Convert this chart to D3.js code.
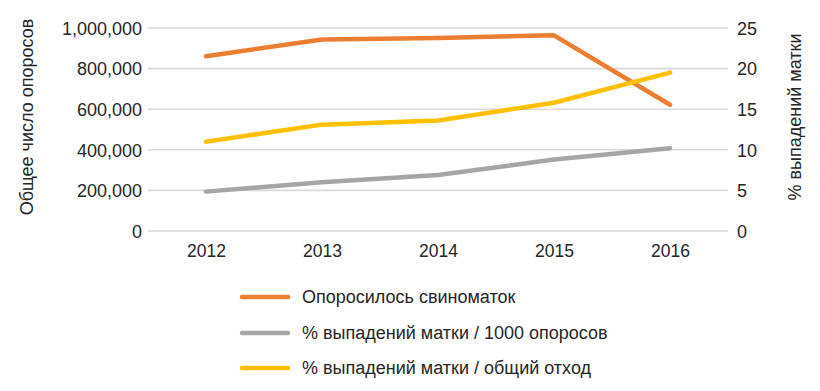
<!DOCTYPE html>
<html>
<head>
<meta charset="utf-8">
<script src="https://cdn.jsdelivr.net/npm/d3@7"></script>
<style>
  body { margin: 0; background: #fff; }
  text { font-family: "Liberation Sans", Arial, sans-serif; fill: #262626; }
</style>
</head>
<body>
<div id="chart"></div>
<script>
// years on the x axis
const years = ['2012', '2013', '2014', '2015', '2016'];

// left axis: total farrowings
const farrowings = [861000, 943000, 951000, 964000, 622000];
// right axis: % uterine prolapse
const prolapsePer1000 = [4.85, 6.0, 6.9, 8.8, 10.2];
const prolapseOfLosses = [11.0, 13.1, 13.6, 15.8, 19.5];

const leftTicks = [0, 200000, 400000, 600000, 800000, 1000000];
const rightTicks = [0, 5, 10, 15, 20, 25];

const seriesNames = [
  'Опоросилось свиноматок',
  '% выпадений матки / 1000 опоросов',
  '% выпадений матки / общий отход'
];
const seriesColors = ['#ED7D31', '#A5A5A5', '#FFC000'];

const W = 820, H = 391;
const svg = d3.select('#chart').append('svg')
  .attr('width', W).attr('height', H);

const plotL = 148, plotR = 728, plotT = 28, plotB = 231;

const x = d3.scalePoint().domain(years).range([plotL, plotR]).padding(0.5);
const yL = d3.scaleLinear().domain([0, 1000000]).range([plotB, plotT]);
const yR = d3.scaleLinear().domain([0, 25]).range([plotB, plotT]);

// gridlines
svg.append('g').selectAll('line')
  .data(leftTicks).enter().append('line')
  .attr('x1', plotL).attr('x2', plotR)
  .attr('y1', d => yL(d)).attr('y2', d => yL(d))
  .attr('stroke', '#d9d9d9').attr('stroke-width', 1.6);

// left axis
const axL = svg.append('g').attr('transform', `translate(${plotL - 6},0)`)
  .call(d3.axisLeft(yL).tickValues(leftTicks).tickFormat(d3.format(',')).tickSize(0).tickPadding(0));
axL.select('.domain').remove();
axL.selectAll('text').style('font-size', '18px').attr('dy', '0.35em');

// right axis
const axR = svg.append('g').attr('transform', `translate(${plotR + 9},0)`)
  .call(d3.axisRight(yR).tickValues(rightTicks).tickSize(0).tickPadding(0));
axR.select('.domain').remove();
axR.selectAll('text').style('font-size', '18px').attr('dy', '0.35em');

// x axis labels
const axX = svg.append('g').attr('transform', `translate(0,${plotB + 8})`)
  .call(d3.axisBottom(x).tickSize(0).tickPadding(0));
axX.select('.domain').remove();
axX.selectAll('text').style('font-size', '17.5px').attr('dy', '1.05em');

// axis titles
svg.append('text')
  .attr('transform', `translate(33,117) rotate(-90)`)
  .attr('text-anchor', 'middle')
  .style('font-size', '18px')
  .text('Общее число опоросов');
svg.append('text')
  .attr('transform', `translate(801,117) rotate(-90)`)
  .attr('text-anchor', 'middle')
  .style('font-size', '18px')
  .text('% выпадений матки');

// lines
const series = [
  { values: farrowings, y: yL },
  { values: prolapsePer1000, y: yR },
  { values: prolapseOfLosses, y: yR }
];

series.forEach((s, i) => {
  const line = d3.line()
    .x((d, j) => x(years[j]))
    .y(d => s.y(d));
  svg.append('path')
    .datum(s.values)
    .attr('d', line)
    .attr('fill', 'none')
    .attr('stroke', seriesColors[i])
    .attr('stroke-width', 4.5)
    .attr('stroke-linecap', 'round')
    .attr('stroke-linejoin', 'round');
});

// legend
const legendY = [297, 333, 368];
const leg = svg.append('g').selectAll('g')
  .data(seriesNames).enter().append('g')
  .attr('transform', (d, i) => `translate(240,${legendY[i]})`);
leg.append('line')
  .attr('x1', 2).attr('x2', 48).attr('y1', 0).attr('y2', 0)
  .attr('stroke', (d, i) => seriesColors[i])
  .attr('stroke-width', 4.5)
  .attr('stroke-linecap', 'round');
leg.append('text')
  .attr('x', 62).attr('dy', '0.35em')
  .style('font-size', '18px')
  .text(d => d);
</script>
</body>
</html>
